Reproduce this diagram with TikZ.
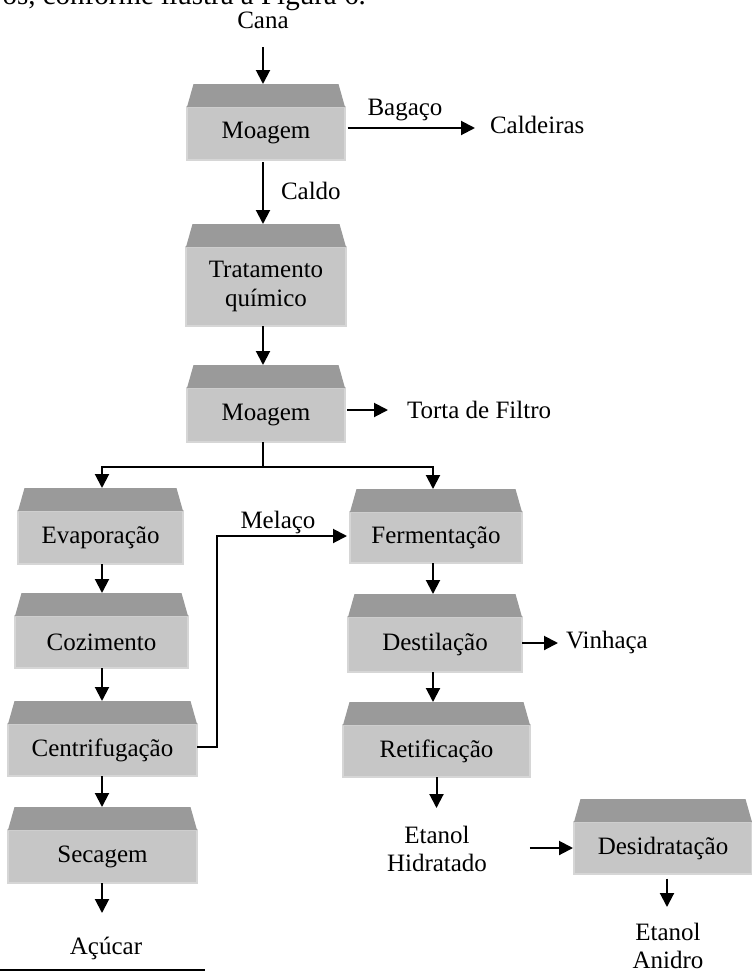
\documentclass[tikz,border=0pt]{standalone}
\usepackage{fontspec}
\setmainfont{Liberation Serif}
\usetikzlibrary{arrows.meta,calc}
\definecolor{bodygray}{HTML}{C6C6C6}
\definecolor{topgray}{HTML}{9A9A9A}
\definecolor{edgegray}{HTML}{D6D6D6}
\begin{document}
\begin{tikzpicture}[x=1pt,y=-1pt,
  font=\fontsize{25}{28.5}\selectfont,
  stage/.style={rectangle, fill=bodygray, draw=edgegray, line width=1.2pt,
    inner sep=0pt, outer sep=0pt, align=center},
  lbl/.style={inner sep=0pt, outer sep=0pt, text height=17pt, text depth=5pt},
  multi/.style={inner sep=0pt, outer sep=0pt, align=center, anchor=north},
  flow/.style={line width=2pt, -{Triangle[length=14pt,width=14pt]}},
]
\useasboundingbox (0,0) rectangle (752,972);

% running text of the page above the figure
\node[anchor=base east, inner sep=0pt, font=\fontsize{29}{34}\selectfont] (intro) at (366,4)
  {os, conforme ilustra a Figura 6.};

% process stages (body of each box)
\node[stage, minimum width=158pt, minimum height=53pt] (moag1) at (266,133.5) {Moagem};
\node[stage, minimum width=160pt, minimum height=79pt] (trat)  at (266,286.5) {Tratamento\\químico};
\node[stage, minimum width=158pt, minimum height=54pt] (moag2) at (266,415)   {Moagem};
\node[stage, minimum width=165pt, minimum height=53pt] (evap)  at (100.5,537.5) {Evaporação};
\node[stage, minimum width=173pt, minimum height=52pt] (coz)   at (101.5,642) {Cozimento};
\node[stage, minimum width=189pt, minimum height=52pt] (cent)  at (102.5,750) {Centrifugação};
\node[stage, minimum width=189pt, minimum height=53pt] (sec)   at (102.5,856.5) {Secagem};
\node[stage, minimum width=172pt, minimum height=51pt] (ferm)  at (436,537.5) {Fermentação};
\node[stage, minimum width=174pt, minimum height=55pt] (dest)  at (435,644.5) {Destilação};
\node[stage, minimum width=187pt, minimum height=52pt] (ret)   at (436.5,751) {Retificação};
\node[stage, minimum width=178pt, minimum height=52pt] (desid) at (663,848)   {Desidratação};

% bevelled lid on top of every box
\foreach \n in {moag1,trat,moag2,evap,coz,cent,sec,ferm,dest,ret,desid}{
  \fill[topgray] (\n.north west) -- ($(\n.north west)+(6.5,-23)$)
    -- ($(\n.north east)+(-6.5,-23)$) -- (\n.north east) -- cycle;
  \coordinate (\n-top) at ($(\n.north)+(0,-23)$);
}

% inputs, products and by-products
\node[lbl, anchor=base] (cana) at (263,28) {Cana};
\node[lbl, anchor=base west] (caldeiras) at (490,133) {Caldeiras};
\node[lbl, anchor=base west] (torta) at (407,418) {Torta de Filtro};
\node[lbl, anchor=base west] (vinhaca) at (566,648) {Vinhaça};
\node[lbl, anchor=base] (acucar) at (106,954) {Açúcar};
\node[multi] (hidr) at (437,826) {Etanol\\Hidratado};
\node[multi] (anidro) at (668,923) {Etanol\\Anidro};

% stream labels
\node[lbl, anchor=base] (bagaco) at (405,115) {Bagaço};
\node[lbl, anchor=base west] (caldo) at (281,199) {Caldo};
\node[lbl, anchor=base] (melaco) at (278,528) {Melaço};

% guide lines for the vertical runs
\coordinate (spine) at (263,0);
\coordinate (lspine) at (102,0);
\coordinate (rspine) at (433,0);
\coordinate (bar) at (0,467);
\coordinate (melx) at (217,0);

% main line
\draw[flow, shorten <=14pt] (cana.south) -- (cana.south |- moag1-top);
\draw[flow, shorten <=2pt] (moag1.south -| spine) -- (trat-top -| spine);
\draw[flow] (trat.south -| spine) -- (moag2-top -| spine);
\draw[flow, shorten <=2.5pt, shorten >=15pt] ([yshift=5.5pt]moag1.east) -- ([yshift=5.5pt]moag1.east -| caldeiras.west);
\draw[flow, shorten <=2pt, shorten >=19pt] ([yshift=5pt]moag2.east) -- ([yshift=5pt]moag2.east -| torta.west);

% split towards sugar and ethanol
\draw[flow] (moag2.south -| spine) -- (spine |- bar) -| (evap-top -| lspine);
\draw[flow] (spine |- bar) -| (ferm-top -| rspine);

% sugar line
\draw[flow] (evap.south -| lspine) -- (coz-top -| lspine);
\draw[flow] (coz.south -| lspine) -- (cent-top -| lspine);
\draw[flow] (cent.south -| lspine) -- (sec-top -| lspine);
\draw[flow, shorten >=24pt] (sec.south -| lspine) -- (acucar.north -| lspine);

% molasses to fermentation
\draw[flow, shorten >=3pt] ([yshift=3pt]cent.east) -| ([yshift=1.5pt]ferm.west -| melx) -- ([yshift=1.5pt]ferm.west);

% ethanol line
\draw[flow] (ferm.south -| rspine) -- (dest-top -| rspine);
\draw[flow, shorten >=8pt] ([yshift=1.5pt]dest.east) -- ([yshift=1.5pt]dest.east -| vinhaca.west);
\draw[flow] (dest.south -| rspine) -- (ret-top -| rspine);
\draw[flow, shorten >=18pt] (ret.south) -- (ret.south |- hidr.north);
\draw[flow, shorten <=43pt, shorten >=1pt] (hidr.east |- desid.west) -- (desid.west);
\draw[flow, shorten <=4.5pt, shorten >=16pt] ([xshift=4pt]desid.south) -- ([xshift=4pt]desid.south |- anidro.north);

% footnote rule at the page bottom
\draw[line width=1.5pt] (0,970) -- (205,970);
\end{tikzpicture}
\end{document}
